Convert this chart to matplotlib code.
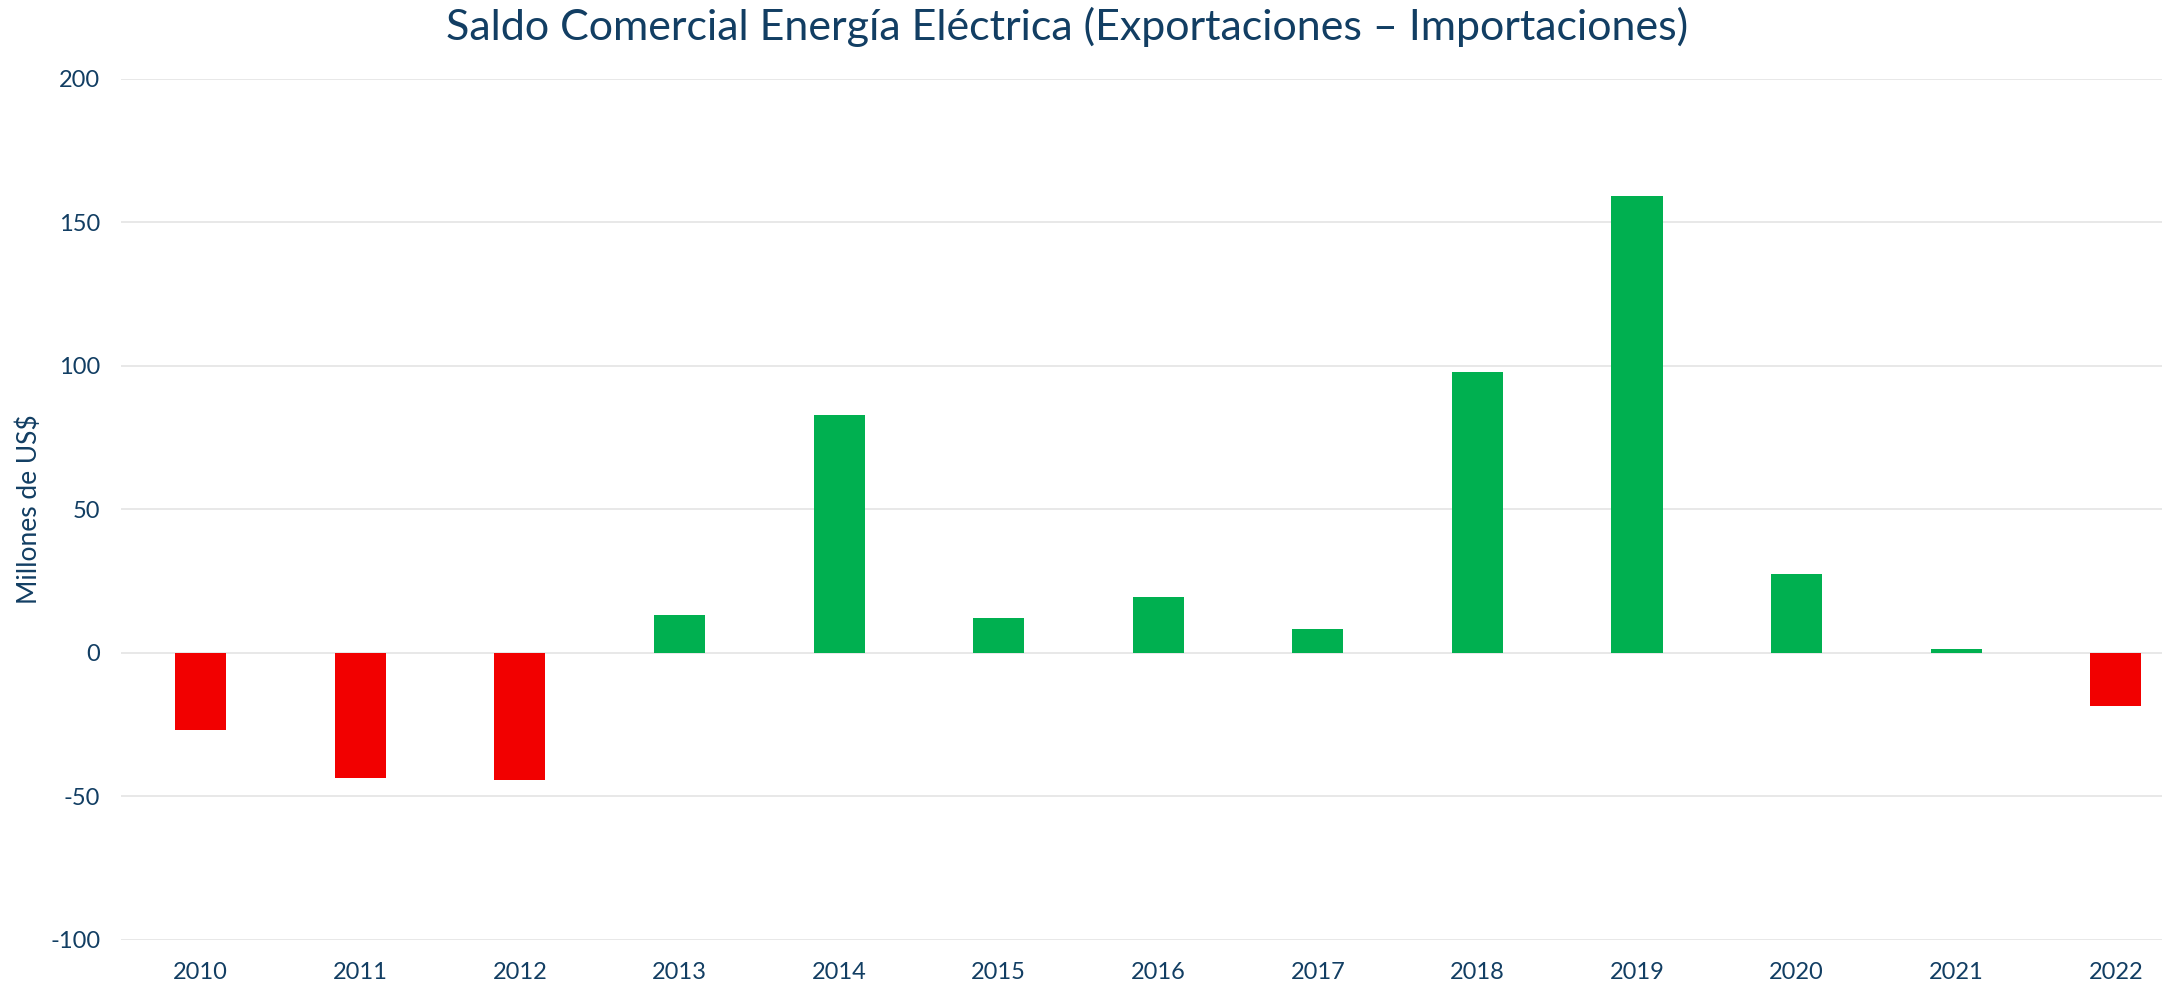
import matplotlib
matplotlib.use("Agg")
import matplotlib.pyplot as plt

years = ["2010", "2011", "2012", "2013", "2014", "2015", "2016",
         "2017", "2018", "2019", "2020", "2021", "2022"]
saldo = [-27.0, -43.7, -44.1, 13.3, 82.9, 12.1, 19.4,
         8.4, 97.9, 159.1, 27.6, 1.5, -18.3]
yticks = [-100, -50, 0, 50, 100, 150, 200]

TXT = "#123E63"
plt.rcParams['font.family'] = ['Lato', 'DejaVu Sans']

fig = plt.figure(figsize=(21.62, 9.85), dpi=100)
ax = fig.add_axes([121/2162, 1 - 940/985, (2162-121)/2162, (940-79)/985])

colors = ["#F20000" if v < 0 else "#00B050" for v in saldo]
x = list(range(len(years)))
ax.bar(x, saldo, width=0.32, color=colors, zorder=3)

ax.set_ylim(-100, 200)
ax.set_xlim(-0.5, 12.29)
ax.set_yticks(yticks)
ax.set_yticklabels([str(t) for t in yticks])
ax.set_xticks(x)
ax.set_xticklabels(years)
ax.grid(axis='y', color='#E6E6E6', linewidth=1.3, zorder=0)
for s in ax.spines.values():
    s.set_visible(False)
ax.tick_params(axis='both', length=0, labelsize=17, colors=TXT)
ax.tick_params(axis='y', pad=15)
ax.tick_params(axis='x', pad=16)
ax.set_ylabel("Millones de US$", fontsize=19, color=TXT)
ax.yaxis.set_label_coords(-0.0385, 0.5)

fig.text(0.4935, 0.993, "Saldo Comercial Energía Eléctrica (Exportaciones – Importaciones)",
         ha='center', va='top', fontsize=31, color=TXT)

fig.savefig("out.png", dpi=100)
